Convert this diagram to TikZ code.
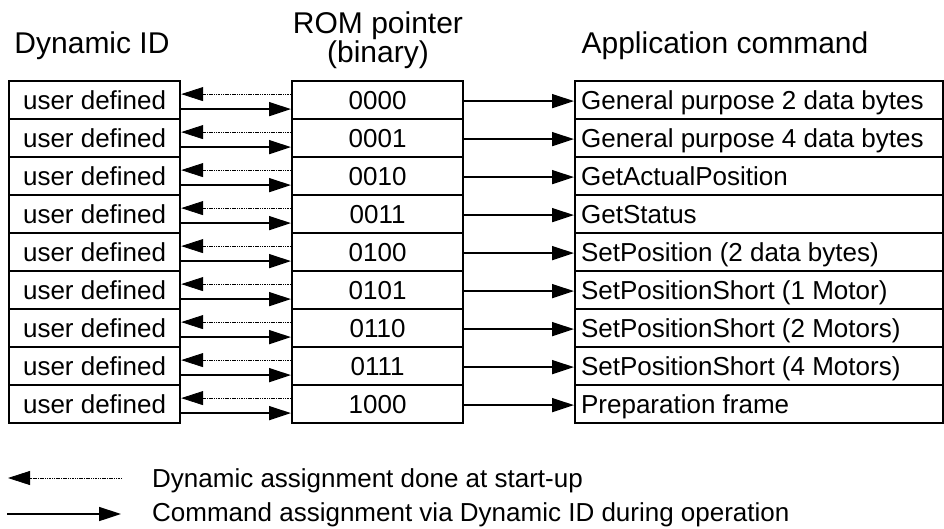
\documentclass[tikz,border=0pt]{standalone}
\usepackage{fontspec}
\setmainfont{Liberation Sans}
\usetikzlibrary{positioning, calc, arrows.meta}

\begin{document}
\begin{tikzpicture}
    [x=1pt, y=-1pt,
    cellnode/.style={rectangle, draw=black, line width=2.2pt, minimum height=38pt, inner sep=0pt, text height=19pt, text depth=0pt, font=\fontsize{26}{26}\selectfont},
    headnode/.style={font=\fontsize{30}{29}\selectfont, align=center, anchor=base},
    startarrow/.style={-{Triangle[length=22pt, width=14pt]}, line width=0.8pt, dash pattern=on 1.5pt off 0.8pt},
    cmdarrow/.style={-{Triangle[length=22pt, width=14pt]}, line width=1.6pt},]

    \useasboundingbox (0,0) rectangle (944,528);

    %Headings
    \node[headnode](IDhead) at (92,53){Dynamic ID};
    \node[headnode](ROMhead) at (378,62){ROM pointer\\(binary)};
    \node[headnode](CMDhead) at (725,53){Application command};

    %Rows
    \foreach \rom/\cmd [count=\i] in {0000/General purpose 2 data bytes, 0001/General purpose 4 data bytes, 0010/GetActualPosition, 0011/GetStatus, 0100/SetPosition (2 data bytes), 0101/SetPositionShort (1 Motor), 0110/SetPositionShort (2 Motors), 0111/SetPositionShort (4 Motors), 1000/Preparation frame}
    {
        \node[cellnode, minimum width=171pt, anchor=north west](ID\i) at (8,{80+38*(\i-1)}){user defined};
        \node[cellnode, minimum width=171pt, anchor=north west](ROM\i) at (291,{80+38*(\i-1)}){\rom};
        \node[cellnode, minimum width=368pt, anchor=north west, text width=356pt, align=flush left](CMD\i) at (574,{80+38*(\i-1)}){\cmd};

        %Lines
        \draw[startarrow]([yshift=6pt]ROM\i.west)--([yshift=6pt]ID\i.east);
        \draw[cmdarrow]([yshift=-9pt]ID\i.east)--([yshift=-9pt]ROM\i.west);
        \draw[cmdarrow]([yshift=-1pt]ROM\i.east)--([yshift=-1pt]CMD\i.west);
    }

    %Legend
    \coordinate(L1a) at (122,478);
    \coordinate(L1b) at (8,478);
    \coordinate(L2a) at (7,514);
    \coordinate(L2b) at (121,514);
    \draw[startarrow](L1a)--(L1b);
    \draw[cmdarrow](L2a)--(L2b);
    \node[anchor=base west, inner sep=0pt, font=\fontsize{26}{26}\selectfont](L1label) at (152,487){Dynamic assignment done at start-up};
    \node[anchor=base west, inner sep=0pt, font=\fontsize{26}{26}\selectfont](L2label) at (152,521){Command assignment via Dynamic ID during operation};

\end{tikzpicture}
\end{document}
